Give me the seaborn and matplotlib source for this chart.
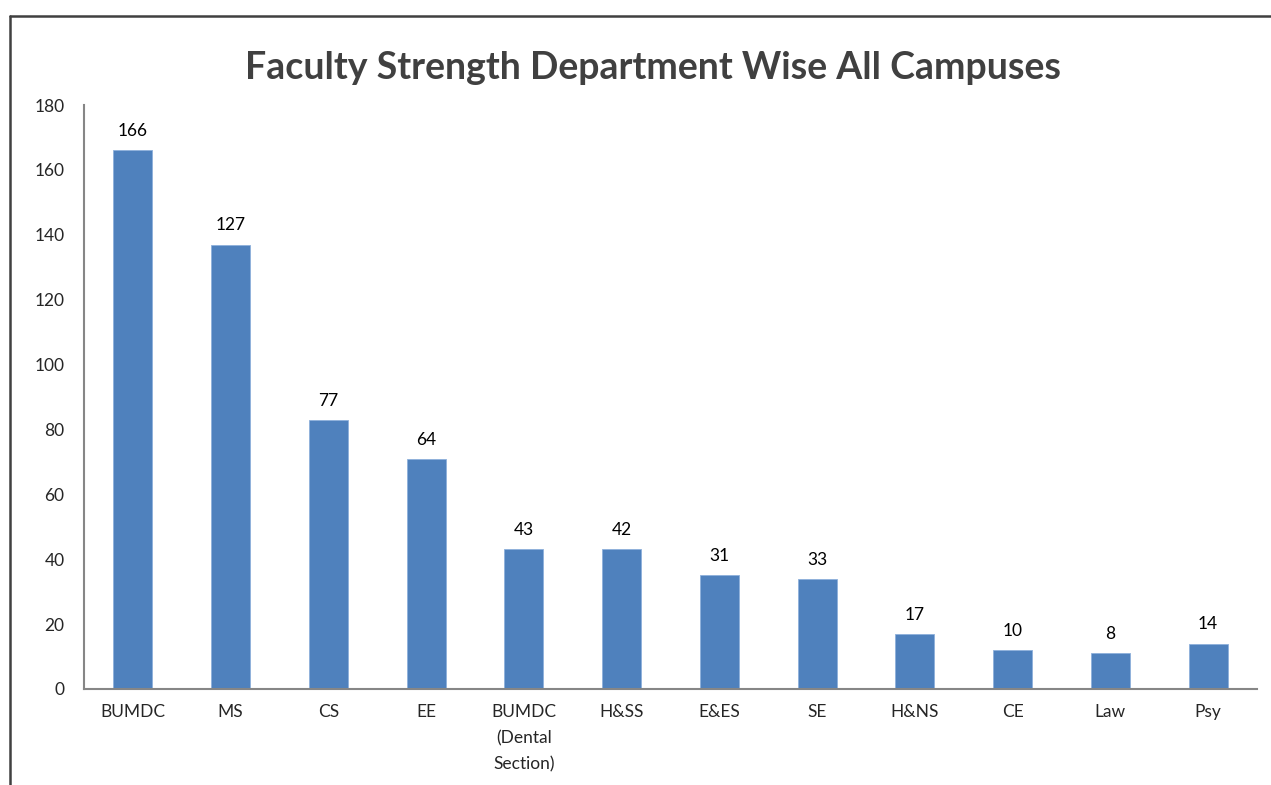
import matplotlib
matplotlib.use("Agg")
import matplotlib.pyplot as plt
import seaborn as sns
import pandas as pd
from matplotlib.lines import Line2D

departments = ["BUMDC", "MS", "CS", "EE", "BUMDC\n(Dental\nSection)", "H&SS",
               "E&ES", "SE", "H&NS", "CE", "Law", "Psy"]
# bar heights as drawn in the picture
bar_heights = [166, 137, 83, 71, 43, 43, 35, 34, 17, 12, 11, 14]
# numbers printed above the bars
bar_labels = ["166", "127", "77", "64", "43", "42", "31", "33", "17", "10", "8", "14"]
y_ticks = [0, 20, 40, 60, 80, 100, 120, 140, 160, 180]

sns.set_style("white")
plt.rcParams['font.family'] = ['Lato', 'DejaVu Sans']

df = pd.DataFrame({'Department': departments, 'Faculty': bar_heights})

fig = plt.figure(figsize=(12.71, 7.85), dpi=100)
ax = fig.add_axes([0.0661, 0.1223, 0.9229, 0.7439])

sns.barplot(data=df, x='Department', y='Faculty', color='#4F81BD',
            width=0.4, saturation=1, edgecolor='#8DB0DB', linewidth=0.6, ax=ax)

for i, lab in enumerate(bar_labels):
    ax.annotate(lab, (i, bar_heights[i]), xytext=(0, 8), textcoords='offset points',
                ha='center', va='bottom', fontsize=12.5, color='black')

ax.set_xlim(-0.5, len(departments) - 0.5)
ax.set_ylim(0, 180)
ax.set_yticks(y_ticks)
ax.set_yticklabels([str(t) for t in y_ticks], fontsize=12.5)

# tick marks on category boundaries, labels at centres
ax.set_xticks([i - 0.5 for i in range(len(departments) + 1)])
ax.set_xticklabels([])
ax.set_xticks(range(len(departments)), minor=True)
ax.set_xticklabels(departments, minor=True, fontsize=12.5, va='top', linespacing=1.75)
ax.tick_params(axis='x', which='minor', length=0, pad=11)
ax.tick_params(axis='x', which='major', length=6, width=1.5, color='#868686', direction='out')
ax.tick_params(axis='y', length=6, width=1.5, color='#868686', direction='out', pad=8)

for s in ['top', 'right']:
    ax.spines[s].set_visible(False)
for s in ['left', 'bottom']:
    ax.spines[s].set_color('#868686')
    ax.spines[s].set_linewidth(1.5)

ax.set_xlabel('')
ax.set_ylabel('')

fig.text(0.514, 0.913, 'Faculty Strength Department Wise All Campuses',
         ha='center', va='center', fontsize=27, fontweight='bold', color='#404040')

# outer chart frame (left and top edges visible)
fig.add_artist(Line2D([0.0075, 0.0075], [0.0, 0.9796], color='#404040', linewidth=1.8))
fig.add_artist(Line2D([0.0075, 1.0], [0.9796, 0.9796], color='#404040', linewidth=1.8))

fig.savefig('out.png', dpi=100)
